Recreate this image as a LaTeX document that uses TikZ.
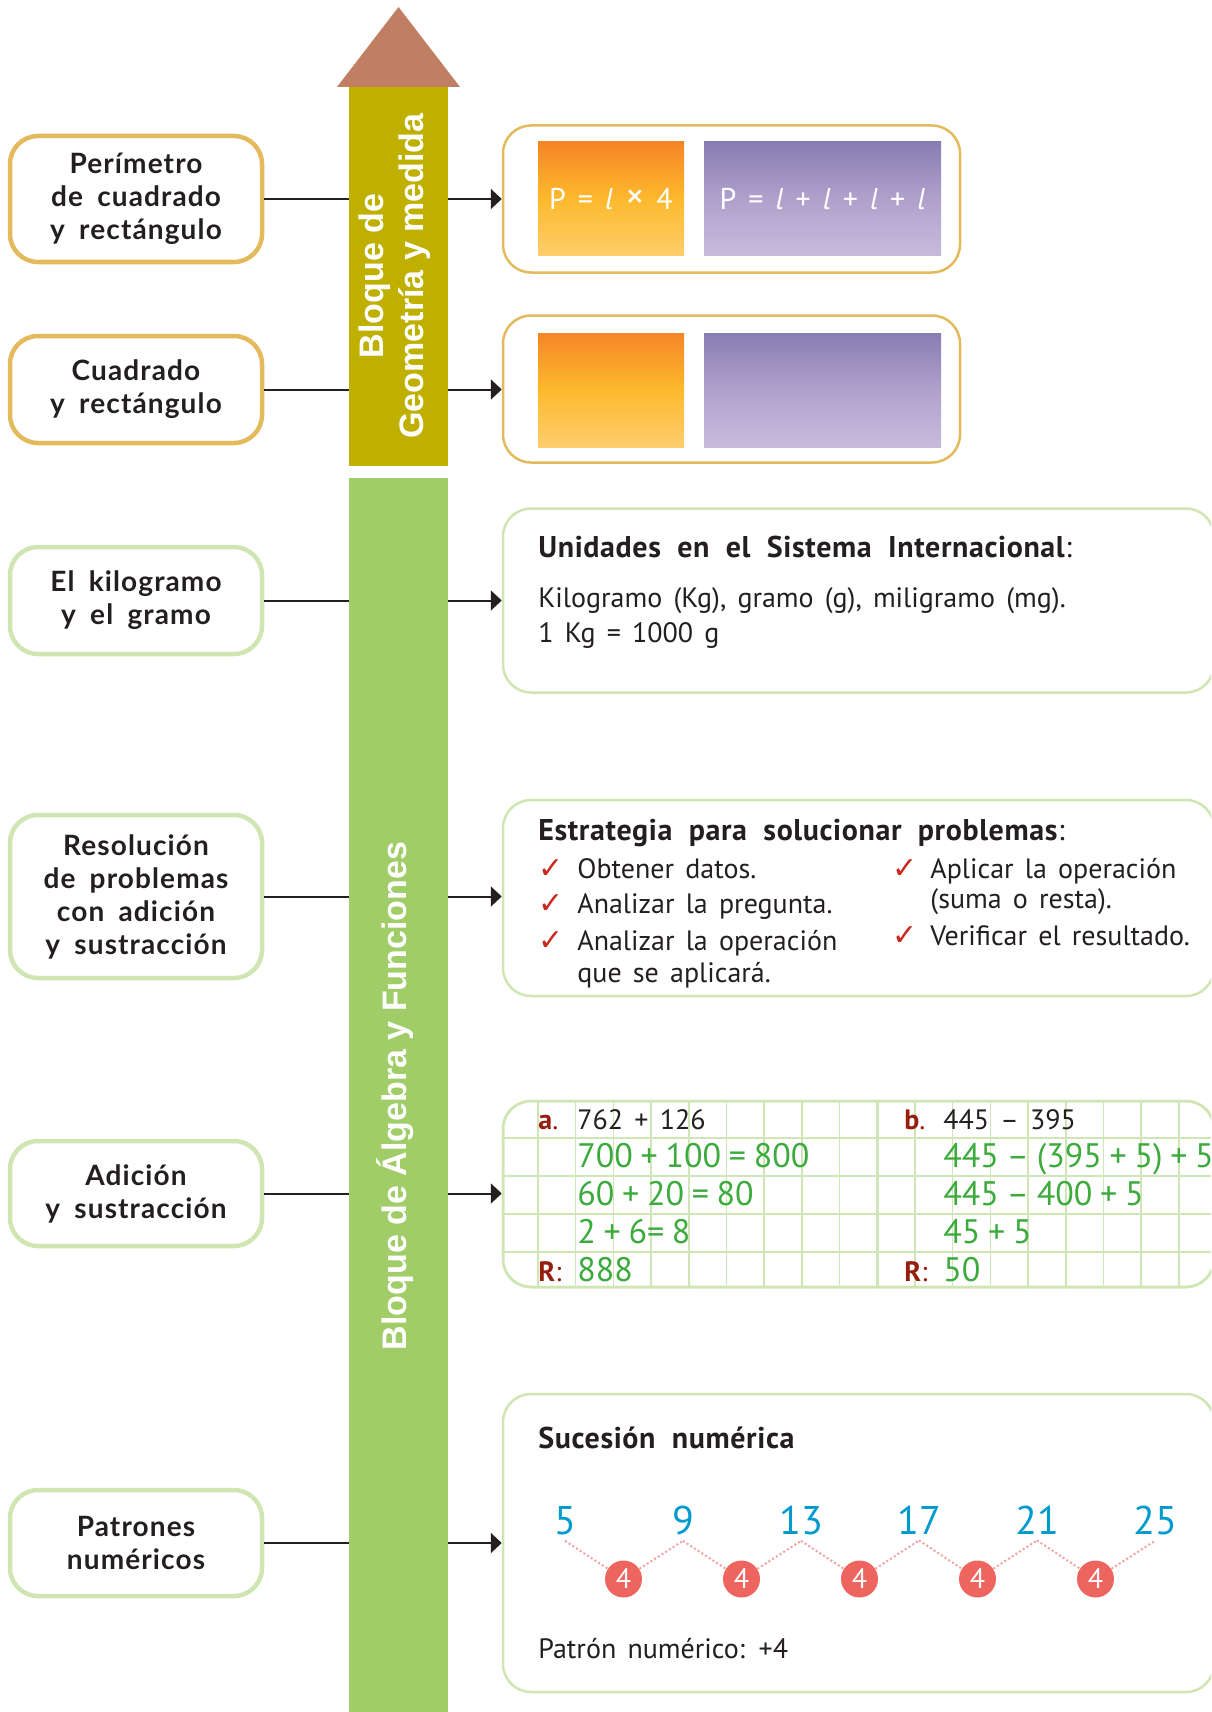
\documentclass[tikz,border=0pt]{standalone}
\usepackage{fontspec}
\setmainfont[WordSpace=1.5]{PT Sans}
\newfontfamily\topicfont[WordSpace=1.8,LetterSpace=4]{Lato}
\newfontfamily\headfont[WordSpace=2.0,LetterSpace=2]{PT Sans}
\newfontfamily\numfont[WordSpace=0.85]{PT Sans}
\newfontfamily\barfont{Liberation Sans}
\newfontfamily\tickfont{DejaVu Sans}
\usepackage{xcolor}
\usepackage{tikz}
\usetikzlibrary{arrows.meta,positioning}
\definecolor{inkdark}{RGB}{35,31,32}
\definecolor{geoolive}{RGB}{191,176,0}
\definecolor{algreen}{RGB}{160,205,103}
\definecolor{roofbrown}{RGB}{192,127,99}
\definecolor{goldline}{RGB}{227,186,92}
\definecolor{sageline}{RGB}{207,229,178}
\definecolor{tileorA}{RGB}{246,134,38}
\definecolor{tileorB}{RGB}{253,185,45}
\definecolor{tileorC}{RGB}{253,206,108}
\definecolor{tilepuA}{RGB}{136,125,178}
\definecolor{tilepuB}{RGB}{176,161,204}
\definecolor{tilepuC}{RGB}{199,187,220}
\definecolor{checkred}{RGB}{200,40,30}
\definecolor{labelred}{RGB}{150,30,15}
\definecolor{numgreen}{RGB}{60,170,60}
\definecolor{gridgreen}{RGB}{208,230,182}
\definecolor{seqblue}{RGB}{0,155,204}
\definecolor{dotred}{RGB}{238,100,95}
\definecolor{dotpink}{RGB}{244,160,160}

\begin{document}
\begin{tikzpicture}[x=0.5pt, y=-0.5pt,
  topic/.style={draw, line width=2.25pt, rounded corners=14pt, fill=white,
    minimum width=126pt, align=center, text=inkdark,
    font=\topicfont\bfseries\fontsize{14}{16.5}\selectfont},
  geotopic/.style={topic, draw=goldline},
  algtopic/.style={topic, draw=sageline},
  panel/.style={draw, line width=1.25pt, rounded corners=14pt, fill=white},
  geopanel/.style={panel, draw=goldline, minimum width=228.5pt, minimum height=73.5pt},
  algpanel/.style={panel, draw=sageline, minimum width=355.5pt},
  link/.style={draw=inkdark, line width=1pt, -{Triangle[length=5.5pt,width=10pt]}},
  ortile/.style={top color=tileorA, bottom color=tileorC, middle color=tileorB,
    minimum width=73pt, minimum height=57pt, inner sep=0pt},
  putile/.style={top color=tilepuA, bottom color=tilepuC, middle color=tilepuB,
    minimum width=118.5pt, minimum height=57pt, inner sep=0pt},
  formula/.style={text=white, font=\fontsize{15}{17}\selectfont},
  bartext/.style={text=white, align=center, font=\barfont\bfseries\fontsize{17}{20}\selectfont},
  txt/.style={anchor=base west, inner sep=0pt, text=inkdark, font=\fontsize{14}{17}\selectfont},
  headtxt/.style={txt, font=\headfont\fontsize{15}{17}\selectfont},
  checkmark/.style={anchor=base west, inner sep=0pt, text=checkred, font=\tickfont\fontsize{15}{17}\selectfont},
  gridtxt/.style={txt, font=\fontsize{14}{16}\selectfont},
  gridnum/.style={txt, text=numgreen, font=\numfont\fontsize{17}{20}\selectfont},
  gridtag/.style={txt, text=labelred},
  gridline/.style={draw=gridgreen, line width=0.75pt},
  seqnum/.style={anchor=base, inner sep=3pt, text=seqblue, font=\fontsize{20}{22}\selectfont},
  seqstep/.style={circle, fill=dotred, text=white, minimum size=18.5pt, inner sep=0pt,
    font=\fontsize{14}{15}\selectfont},
  seqdots/.style={draw=dotpink, line width=1pt, dash pattern=on 1pt off 1.2pt}]
\useasboundingbox (0,0) rectangle (1211,1712);
\clip (0,0) rectangle (1211,1712);
% Topics on the left, one per row
\node[geotopic, minimum height=63pt] (perim) at (136,199) {Perímetro\\de cuadrado\\y rectángulo};
\node[geotopic, minimum height=53.5pt] (shapes) at (136,389.5) {Cuadrado\\y rectángulo};
\node[algtopic, minimum height=53.5pt] (mass) at (136,600.5) {El kilogramo\\y el gramo};
\node[algtopic, minimum height=81.5pt] (solve) at (136,896.5) {Resolución\\de problemas\\con adición\\y sustracción};
\node[algtopic, minimum height=52.5pt] (addsub) at (136,1193.5) {Adición\\y sustracción};
\node[algtopic, minimum height=53pt] (pattern) at (136,1543) {Patrones\\numéricos};
% Panels on the right (the green ones run past the page edge)
\node[geopanel] (perimP) at (731.5,199) {};
\node[geopanel] (shapesP) at (731.5,389) {};
\node[algpanel, minimum height=92pt] (massP) at (858.5,600.5) {};
\node[algpanel, minimum height=98pt] (solveP) at (858.5,898) {};
\node[algpanel, minimum height=93pt] (addsubP) at (858.5,1194) {};
\node[algpanel, minimum height=149pt] (patternP) at (858.5,1543) {};
% Connectors, drawn before the spine so it covers them
\foreach \a/\b in {perim/perimP, shapes/shapesP, mass/massP,
                   solve/solveP, addsub/addsubP, pattern/patternP}
  \draw[link] (\a.east) -- (\a.east -| \b.west);
% Spine: roof, olive block, green block
\fill[roofbrown] (398.5,7) -- (460,87) -- (337,87) -- cycle;
\node[fill=geoolive, minimum width=49.5pt, minimum height=189.5pt, inner sep=0pt] (geobar) at (398.5,276.5) {};
\node[fill=algreen, minimum width=49.5pt, minimum height=621pt, inner sep=0pt] (algbar) at (398.5,1099) {};
\node[bartext, rotate=90] (geolabel) at (395,276) {Bloque de\\Geometría y medida};
\node[bartext, rotate=90] (alglabel) at (395,1096) {Bloque de Álgebra y Funciones};
% Perimeter tiles
\node[ortile, formula] (sqA) at (611,199) {P = \textit{l} {\fontsize{19}{17}\selectfont ×} 4};
\node[putile, formula] (rcA) at (822.5,199) {P = \textit{l} + \textit{l} + \textit{l} + \textit{l}};
\node[ortile] (sqB) at (611,390) {};
\node[putile] (rcB) at (822.5,390) {};
% Mass units
\node[headtxt] (massT) at (538,557) {\textbf{Unidades en el Sistema Internacional}:};
\node[txt] (massA) at (538,607) {Kilogramo (Kg), gramo (g), miligramo (mg).};
\node[txt] (massB) at (538,642) {1 Kg = 1000 g};
% Problem solving strategy
\node[headtxt] (solveT) at (538,840) {\textbf{Estrategia para solucionar problemas}:};
\foreach \cx/\cy [count=\c] in {538/878, 538/913, 538/950, 892/878, 892/945}
  \node[checkmark] (chk\c) at (\cx,\cy) {✓};
\node[txt] (stepA) at (577,878) {Obtener datos.};
\node[txt] (stepB) at (577,913) {Analizar la pregunta.};
\node[txt] (stepC) at (577,950) {Analizar la operación};
\node[txt] (stepCb) at (577,982) {que se aplicará.};
\node[txt] (stepD) at (930,878) {Aplicar la operación};
\node[txt] (stepDb) at (930,908) {(suma o resta).};
\node[txt] (stepE) at (930,945) {Verificar el resultado.};
% Squared paper for the two worked sums
\begin{scope}
  \clip[rounded corners=14pt] (addsubP.north west) rectangle (addsubP.south east);
  \foreach \gx in {0,...,17}
    \draw[gridline] ({538+37.7*\gx},1090) -- ++(0,210);
  \foreach \gy in {1138,1176,1214,1252}
    \draw[gridline] (490,\gy) -- (1220,\gy);
  \draw[gridline, line width=1.5pt] (877.3,1090) -- ++(0,210);
\end{scope}
\draw[sageline, line width=1.25pt, rounded corners=14pt] (503,1101) rectangle (1214,1287);
\node[gridtag] (tagA) at (538,1129) {\textbf{a}.};
\node[gridtxt] (sumA) at (577,1129) {762 + 126};
\node[gridnum] (sumA1) at (577,1167) {700 + 100 = 800};
\node[gridnum] (sumA2) at (577,1205) {60 + 20 = 80};
\node[gridnum] (sumA3) at (577,1243) {2 + 6= 8};
\node[gridtag] (resA) at (538,1281) {\textbf{R}:};
\node[gridnum] (sumAr) at (577,1281) {888};
\node[gridtag] (tagB) at (904,1129) {\textbf{b}.};
\node[gridtxt] (subB) at (943,1129) {445 – 395};
\node[gridnum] (subB1) at (943,1167) {445 – (395 + 5) + 5};
\node[gridnum] (subB2) at (943,1205) {445 – 400 + 5};
\node[gridnum] (subB3) at (943,1243) {45 + 5};
\node[gridtag] (resB) at (904,1281) {\textbf{R}:};
\node[gridnum] (subBr) at (943,1281) {50};
% Number sequence, step +4
\node[headtxt] (seqT) at (538,1448) {\textbf{Sucesión numérica}};
\foreach \k/\v in {0/5, 1/9, 2/13, 3/17, 4/21, 5/25}
  \node[seqnum] (num\k) at ({565+118*\k},1534) {\v};
\foreach \k in {0,...,4}
  \node[seqstep] (step\k) at ({623.5+118*\k},1579) {4};
\foreach \k/\n in {0/1, 1/2, 2/3, 3/4, 4/5} {
  \draw[seqdots] (num\k.south) -- (step\k);
  \draw[seqdots] (step\k) -- (num\n.south);
}
\node[txt] (seqP) at (538,1658) {Patrón numérico: +4};
\end{tikzpicture}
\end{document}
